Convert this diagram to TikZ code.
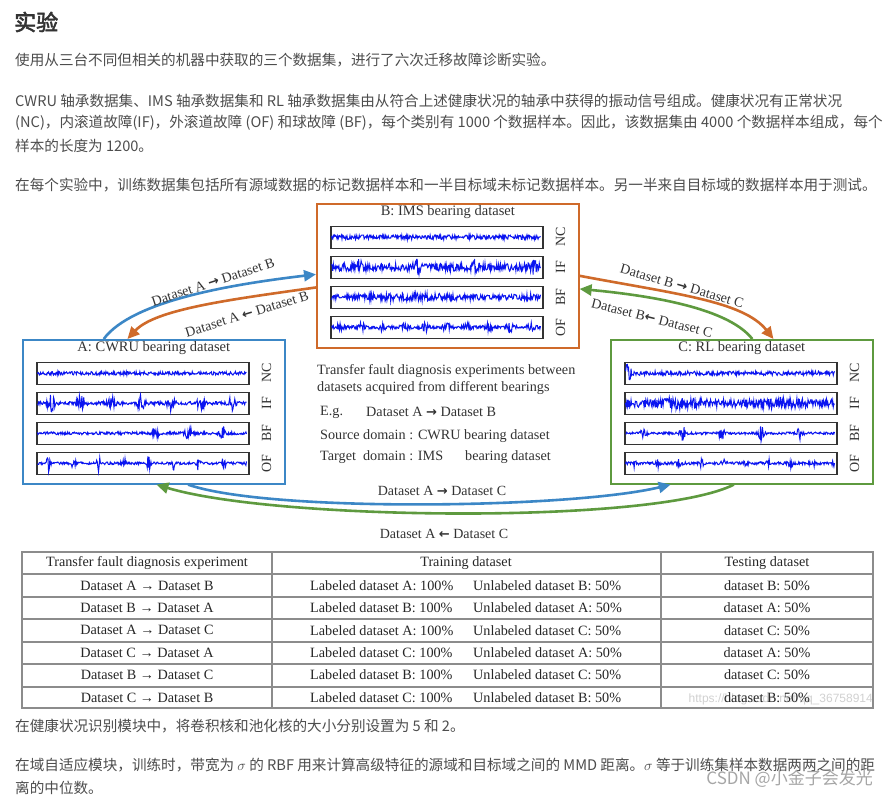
\documentclass[tikz,border=0pt]{standalone}
\usepackage{fontspec}
\setmainfont{Liberation Serif}
\setsansfont{Liberation Sans}
\newfontfamily\cjk[AutoFakeBold=2.5]{Noto Sans CJK SC}
\newfontfamily\arrowfont{DejaVu Sans}
\newcommand{\heavyto}{{\arrowfont\bfseries\fontsize{13}{14}\selectfont →}}
\newcommand{\heavyfrom}{{\arrowfont\bfseries\fontsize{13}{14}\selectfont ←}}
\usepackage{xcolor}
\definecolor{expblue}{HTML}{3C87C6}
\definecolor{exporange}{HTML}{CF6A2A}
\definecolor{expgreen}{HTML}{5E9A3F}
\definecolor{wavblue}{HTML}{0A14F0}
\definecolor{bodygray}{HTML}{4D4D4D}
\definecolor{titlegray}{HTML}{333333}
\definecolor{figtext}{HTML}{333333}
\definecolor{tabline}{HTML}{8C8C8C}
\usepackage{tikz}
\usetikzlibrary{arrows.meta,calc,positioning}

\begin{document}
\begin{tikzpicture}[x=1pt,y=-1pt,
  panel/.style={draw, line width=1.6pt, minimum width=262pt, minimum height=144pt,
                anchor=north west, inner sep=0pt},
  ptitle/.style={font=\fontsize{14.5}{16}\selectfont, text=figtext, inner sep=0pt},
  wbox/.style={draw=black!80, line width=1.5pt, minimum width=212pt, minimum height=22pt,
               anchor=north west, inner sep=0pt},
  wave/.style={draw=wavblue, line width=1pt},
  flab/.style={font=\fontsize{14}{15}\selectfont, text=figtext, rotate=90, inner sep=0pt},
  link/.style={line width=2.6pt, -{Triangle[length=12pt,width=11pt]}},
  lbl/.style={font=\fontsize{14}{16}\selectfont, text=figtext, inner sep=1pt},
  note/.style={font=\fontsize{14.2}{16}\selectfont, text=figtext, anchor=west, inner sep=0pt},
  body/.style={font=\cjk\fontsize{14.6}{16}\selectfont, text=bodygray, anchor=west, inner sep=0pt},
  tabrule/.style={draw=tabline, line width=1.2pt},
  tabtxt/.style={font=\fontsize{14.2}{16}\selectfont, text=black!85, inner sep=0pt}
]
  \fill[white] (0,0) rectangle (890,801);
  \useasboundingbox (0,0) rectangle (890,801);
  \pgfmathsetseed{7}

  % page text above the figure
  \node[body, font=\cjk\bfseries\fontsize{22}{24}\selectfont, text=titlegray] (title) at (14,22) {实验};
  \node[body] (p1)  at (15,60)  {使用从三台不同但相关的机器中获取的三个数据集，进行了六次迁移故障诊断实验。};
  \node[body] (p2a) at (15,101) {CWRU 轴承数据集、IMS 轴承数据集和 RL 轴承数据集由从符合上述健康状况的轴承中获得的振动信号组成。健康状况有正常状况};
  \node[body] (p2b) at (15,123) {(NC)，内滚道故障(IF)，外滚道故障 (OF) 和球故障 (BF)，每个类别有 1000 个数据样本。因此，该数据集由 4000 个数据样本组成，每个};
  \node[body] (p2c) at (15,146) {样本的长度为 1200。};
  \node[body] (p3)  at (15,185) {在每个实验中，训练数据集包括所有源域数据的标记数据样本和一半目标域未标记数据样本。另一半来自目标域的数据样本用于测试。};

  % the three datasets
  \foreach \p/\col/\px/\py/\ttl in {A/expblue/22/339/{A: CWRU bearing dataset},
                                    B/exporange/316/203/{B: IMS bearing dataset},
                                    C/expgreen/610/339/{C: RL bearing dataset}} {
    \node[panel, draw=\col] (box\p) at (\px,\py) {};
    \node[ptitle] (title\p) at ($(box\p.north)+(0,9.5)$) {\ttl};
  }

  % vibration signals
  \foreach \p/\ampNC/\ampIF/\ampBF/\ampOF in {
      A/{1.8}/{1.7+7*abs(sin(\x*6))^12}/{1.4+(\x>105)*6*abs(sin(\x*5.3))^20}/{1.3+7.5*abs(sin(\x*7.2))^40},
      B/{2.3}/{3.9+5*abs(sin(\x*3.1))^60}/{2.7+1.6*abs(sin(\x*1.1))^2}/{1.7+3.4*abs(sin(\x*8.5))^8},
      C/{2.1+7*(\x<8)}/{3.9+2.5*abs(sin(\x*1.7))^6}/{1.2+6.5*abs(sin(\x*4.6))^40}/{1.4+3.5*abs(sin(\x*8.1))^16}} {
    \foreach \row/\lab/\amp in {1/NC/\ampNC,2/IF/\ampIF,3/BF/\ampBF,4/OF/\ampOF} {
      \node[wbox] (w\p\row) at ($(box\p.north west)+(14,22.5+30*\row-30)$) {};
      \begin{scope}[shift={(w\p\row.west)}]
        \draw[wave] plot[domain=1.5:210.5, samples=340] (\x,{(\amp)*rand});
      \end{scope}
      \node[flab] (l\p\row) at ($(w\p\row.east)+(17,0)$) {\lab};
    }
  }

  % transfer directions
  \coordinate (ab1) at ($(boxA.north west)!0.31!(boxA.north east)$);
  \coordinate (ab2) at ($(boxB.north west)!0.49!(boxB.south west)$);
  \draw[link, expblue] (ab1) .. controls +(28,-38) and +(-85,10) .. (ab2);
  \coordinate (ba1) at ($(boxB.north west)!0.58!(boxB.south west)$);
  \coordinate (ba2) at ($(boxA.north west)!0.40!(boxA.north east)$);
  \draw[link, exporange] (ba1) .. controls +(-85,12) and +(28,-30) .. (ba2);
  \coordinate (bc1) at ($(boxB.north east)!0.50!(boxB.south east)$);
  \coordinate (bc2) at ($(boxC.north west)!0.62!(boxC.north east)$);
  \draw[link, exporange] (bc1) .. controls +(95,18) and +(-30,-38) .. (bc2);
  \coordinate (cb1) at ($(boxC.north west)!0.54!(boxC.north east)$);
  \coordinate (cb2) at ($(boxB.north east)!0.59!(boxB.south east)$);
  \draw[link, expgreen] (cb1) .. controls +(-22,-28) and +(85,8) .. (cb2);
  \coordinate (ac1) at ($(boxA.south west)!0.63!(boxA.south east)$);
  \coordinate (ac2) at ($(boxC.south west)!0.23!(boxC.south east)$);
  \draw[link, expblue] (ac1) .. controls +(80,28) and +(-100,24) .. (ac2);
  \coordinate (ca1) at ($(boxC.south west)!0.47!(boxC.south east)$);
  \coordinate (ca2) at ($(boxA.south west)!0.51!(boxA.south east)$);
  \draw[link, expgreen] (ca1) .. controls +(-80,40) and +(120,36) .. (ca2);

  \node[lbl, rotate=18]  (lAB) at (213,282) {Dataset A \heavyto\ Dataset B};
  \node[lbl, rotate=17]  (lBA) at (247,314) {Dataset A \heavyfrom\ Dataset B};
  \node[lbl, rotate=-16] (lBC) at (682,286) {Dataset B \heavyto\ Dataset C};
  \node[lbl, rotate=-14] (lCB) at (652,318) {Dataset B\heavyfrom\ Dataset C};
  \node[lbl] (lAC) at (442,491) {Dataset A \heavyto\ Dataset C};
  \node[lbl] (lCA) at (444,534) {Dataset A \heavyfrom\ Dataset C};

  % explanation in the middle
  \node[note] (n1) at (317,371) {Transfer fault diagnosis experiments between};
  \node[note] (n2) at (317,388) {datasets acquired from different bearings};
  \node[note] (n3) at (320,412) {E.g.};
  \node[note] (n4) at (366,412) {Dataset A \heavyto\ Dataset B};
  \node[note] (n5) at (320,436) {Source domain : CWRU bearing dataset};
  \node[note] (n6) at (320,457) {Target\ \ domain : IMS};
  \node[note] (n7) at (465,457) {bearing dataset};

  % table
  \node[font=\sffamily\fontsize{12}{14}\selectfont, text=black!18, anchor=east, inner sep=0pt]
    (wm) at (873,699) {https://blog.csdn.net/qq\_36758914};
  \draw[tabrule] (22,552) rectangle (873,708);
  \foreach \yy in {574,597,619,642,664,687}
    \draw[tabrule] (22,\yy) -- (873,\yy);
  \foreach \xx in {272,661}
    \draw[tabrule] (\xx,552) -- (\xx,708);
  \node[tabtxt] (hExp)   at (147,563) {Transfer fault diagnosis experiment};
  \node[tabtxt] (hTrain) at (466,563) {Training dataset};
  \node[tabtxt] (hTest)  at (767,563) {Testing dataset};
  \foreach \src/\tgt [count=\i] in {A/B,B/A,A/C,C/A,B/C,C/B} {
    \node[tabtxt] (exp\i) at (147,563+22.4*\i) {Dataset \src\ → Dataset \tgt};
    \node[tabtxt, anchor=west] (lab\i) at (310,563+22.4*\i) {Labeled dataset \src: 100\%};
    \node[tabtxt, anchor=west] (unl\i) at (473,563+22.4*\i) {Unlabeled dataset \tgt: 50\%};
    \node[tabtxt] (tst\i) at (767,563+22.4*\i) {dataset \tgt: 50\%};
  }

  % page text below the figure
  \node[body] (p4)  at (15,726) {在健康状况识别模块中，将卷积核和池化核的大小分别设置为 5 和 2。};
  \node[body] (p5a) at (15,765) {在域自适应模块，训练时，带宽为 $\sigma$ 的 RBF 用来计算高级特征的源域和目标域之间的 MMD 距离。$\sigma$ 等于训练集样本数据两两之间的距};
  \node[body] (p5b) at (15,788) {离的中位数。};
  \node[body, font=\cjk\fontsize{17}{19}\selectfont, text=black!35, anchor=east] (csdn) at (873,779) {CSDN @小金子会发光};
\end{tikzpicture}
\end{document}
